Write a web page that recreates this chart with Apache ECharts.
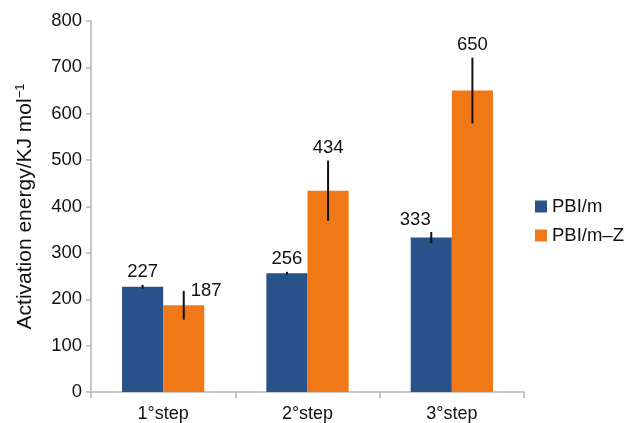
<!DOCTYPE html>
<html>
<head>
<meta charset="utf-8">
<script src="https://cdn.jsdelivr.net/npm/echarts@6/dist/echarts.min.js"></script>
<style>
  html, body { margin: 0; padding: 0; background: #fff; }
  #chart { width: 627px; height: 423px; }
</style>
</head>
<body>
<div id="chart"></div>
<script>
// Activation energy per degradation step, two membranes
const categories = ['1°step', '2°step', '3°step'];
const seriesNames = ['PBI/m', 'PBI/m–Z'];
const pbiM = [227, 256, 333];
const pbiMErr = [4, 3, 12];
const pbiMZ = [187, 434, 650];
const pbiMZErr = [31, 65, 71];
const yTicks = [0, 100, 200, 300, 400, 500, 600, 700, 800];

const colors = ['#29528a', '#f07816'];
const barCategoryGap = 0.43;
const font = '"Liberation Sans", Arial, Helvetica, sans-serif';
const fs = 18.5;

// label placement tweaks per [series][category]: dx, dy (pixels), align mode
const labelTweak = {
  '0-2': { dx: -16, dy: 0, mode: 'top' },
  '1-0': { dx: 7, dy: 0, mode: 'right' }
};

const values = [pbiM, pbiMZ];
const errors = [pbiMErr, pbiMZErr];

// error-bar records: [category, value, error, seriesIndex]
const errData = [];
values.forEach((arr, s) => arr.forEach((v, c) => errData.push([c, v, errors[s][c], s])));

function renderErr(params, api) {
  const c = api.value(0), v = api.value(1), e = api.value(2), s = api.value(3);
  const band = api.size([1, 0])[0];
  const barW = band * (1 - barCategoryGap) / 2;
  const center = api.coord([c, v]);
  const x = center[0] + (s === 0 ? -barW / 2 : barW / 2);
  const top = api.coord([c, v + e])[1];
  const bot = api.coord([c, v - e])[1];
  const tw = labelTweak[s + '-' + c];
  let text;
  if (tw && tw.mode === 'right') {
    text = { x: x + tw.dx, y: top + tw.dy, text: String(v), align: 'left', verticalAlign: 'middle' };
  } else {
    const dx = tw ? tw.dx : 0;
    text = { x: x + dx, y: top - 3, text: String(v), align: 'center', verticalAlign: 'bottom' };
  }
  return {
    type: 'group',
    children: [
      { type: 'line', shape: { x1: x, y1: top, x2: x, y2: bot }, style: { stroke: '#111', lineWidth: 2 } },
      { type: 'text', style: Object.assign(text, { fill: '#111', font: fs + 'px ' + font }) }
    ]
  };
}

const chart = echarts.init(document.getElementById('chart'), null, { renderer: 'canvas' });
chart.setOption({
  animation: false,
  textStyle: { fontFamily: font },
  grid: { left: 91, right: 103, top: 21, bottom: 31 },
  legend: {
    orient: 'vertical',
    left: 535,
    top: 197,
    padding: 0,
    data: seriesNames,
    icon: 'rect',
    itemWidth: 12,
    itemHeight: 12,
    itemGap: 10,
    textStyle: { fontSize: fs, color: '#111', fontFamily: font }
  },
  xAxis: {
    type: 'category',
    data: categories,
    axisLine: { lineStyle: { color: '#b5b5b5', width: 1.5 } },
    axisTick: { show: true, length: 6, lineStyle: { color: '#b5b5b5', width: 1.5 } },
    axisLabel: { fontSize: 18, color: '#111', margin: 13 }
  },
  yAxis: {
    type: 'value',
    min: yTicks[0],
    max: yTicks[yTicks.length - 1],
    interval: 100,
    splitLine: { show: false },
    axisLine: { show: true, lineStyle: { color: '#b5b5b5', width: 1.5 } },
    axisTick: { show: true, length: 5, lineStyle: { color: '#b5b5b5', width: 1.5 } },
    axisLabel: { fontSize: fs, color: '#111', margin: 9 },
    name: 'Activation energy/KJ mol{sup|−1}',
    nameLocation: 'middle',
    nameRotate: 90,
    nameGap: 54,
    nameTextStyle: {
      fontSize: 21,
      color: '#111',
      rich: { sup: { fontSize: 13, verticalAlign: 'top', padding: [0, 0, 10, 0], color: '#111' } }
    }
  },
  series: [
    {
      name: seriesNames[0], type: 'bar', data: pbiM, barGap: '0%',
      barCategoryGap: (barCategoryGap * 100) + '%', itemStyle: { color: colors[0] }
    },
    {
      name: seriesNames[1], type: 'bar', data: pbiMZ, barGap: '0%',
      barCategoryGap: (barCategoryGap * 100) + '%', itemStyle: { color: colors[1] }
    },
    {
      type: 'custom', data: errData, renderItem: renderErr, z: 5,
      encode: { x: 0, y: 1 }, silent: true
    }
  ]
});
</script>
</body>
</html>
